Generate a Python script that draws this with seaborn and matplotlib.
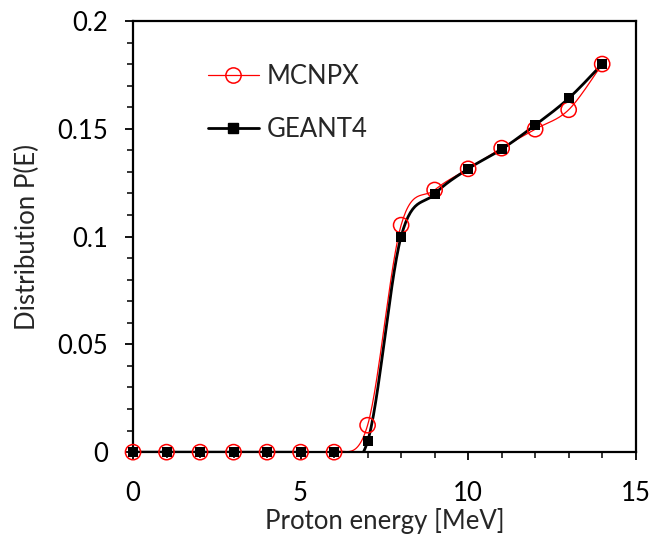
import numpy as np
import pandas as pd
import matplotlib
matplotlib.use("Agg")
import matplotlib.pyplot as plt
from matplotlib.ticker import MultipleLocator
import seaborn as sns

# data
energy = [0, 1, 2, 3, 4, 5, 6, 7, 8, 9, 10, 11, 12, 13, 14]
mcnpx = [0, 0, 0, 0, 0, 0, 0, 0.0125, 0.1053, 0.1216, 0.1314, 0.1410, 0.1498, 0.1588, 0.1800]
geant4 = [0, 0, 0, 0, 0, 0, 0, 0.0050, 0.1000, 0.1197, 0.1314, 0.1405, 0.1517, 0.1641, 0.1800]
x_ticks = [0, 5, 10, 15]
y_ticks = [0, 0.05, 0.1, 0.15, 0.2]
y_labels = ["0", "0.05", "0.1", "0.15", "0.2"]


def smooth(xs, ys, n=30):
    # Excel-like smoothed line (cubic Bezier through the points)
    x = np.asarray(xs, float)
    y = np.asarray(ys, float)
    px = np.concatenate([[x[0]], x, [x[-1]]])
    py = np.concatenate([[y[0]], y, [y[-1]]])
    outx, outy = [], []
    t = np.linspace(0, 1, n)
    for i in range(1, len(px) - 2):
        p0 = np.array([px[i], py[i]])
        p3 = np.array([px[i + 1], py[i + 1]])
        c1 = p0 + (np.array([px[i + 1], py[i + 1]]) - np.array([px[i - 1], py[i - 1]])) / 6
        c2 = p3 - (np.array([px[i + 2], py[i + 2]]) - np.array([px[i], py[i]])) / 6
        b = ((1 - t) ** 3)[:, None] * p0 + (3 * (1 - t) ** 2 * t)[:, None] * c1 \
            + (3 * (1 - t) * t ** 2)[:, None] * c2 + (t ** 3)[:, None] * p3
        outx.extend(b[:, 0])
        outy.extend(b[:, 1])
    return np.array(outx), np.array(outy)


sns.set_style("ticks")
plt.rcParams['font.family'] = ['Lato', 'DejaVu Sans']

fig = plt.figure(figsize=(6.52, 5.37), dpi=100)
ax = fig.add_axes([0.204, 0.158, 0.771, 0.803])

df = pd.DataFrame({"energy": energy, "MCNPX": mcnpx, "GEANT4": geant4})

sx, sy = smooth(df["energy"], df["MCNPX"])
sns.lineplot(x=sx, y=sy, ax=ax, color="red", lw=0.9, sort=False, estimator=None)
gx, gy = smooth(df["energy"], df["GEANT4"])
sns.lineplot(x=gx, y=gy, ax=ax, color="black", lw=2.0, sort=False, estimator=None)

sns.scatterplot(data=df, x="energy", y="MCNPX", ax=ax, marker="o", s=120,
                facecolor="none", edgecolor="red", linewidth=1.1, zorder=3, clip_on=False)
sns.scatterplot(data=df, x="energy", y="GEANT4", ax=ax, marker="s", s=45,
                color="black", edgecolor="black", linewidth=0, zorder=4, clip_on=False)

ax.set_xlim(0, 15)
ax.set_ylim(0, 0.2)
ax.set_xticks(x_ticks)
ax.set_xticklabels([str(v) for v in x_ticks])
ax.xaxis.set_minor_locator(MultipleLocator(1))
ax.set_yticks(y_ticks)
ax.set_yticklabels(y_labels)
ax.yaxis.set_minor_locator(MultipleLocator(0.01))

for s in ax.spines.values():
    s.set_visible(True)
    s.set_linewidth(1.6)
    s.set_color("black")
ax.tick_params(which="major", direction="out", length=6, width=1.3, labelsize=18.5,
               colors="black")
ax.tick_params(which="minor", direction="out", length=4, width=1.3)
ax.tick_params(axis="y", which="both", right=False, left=True, pad=12)
ax.tick_params(axis="x", which="both", top=False, bottom=True, pad=15)

ax.set_xlabel("Proton energy [MeV]", fontsize=18.5, labelpad=1)
ax.set_ylabel("Distribution P(E)", fontsize=18.5, labelpad=12)

h1, = ax.plot([], [], color="red", lw=0.9, marker="o", ms=11, mfc="none", mec="red", mew=1.1)
h2, = ax.plot([], [], color="black", lw=2.0, marker="s", ms=6.5)
ax.legend([h1, h2], ["MCNPX", "GEANT4"], loc="upper left", bbox_to_anchor=(0.128, 0.925),
          frameon=False, fontsize=18.5, handlelength=2.0, labelspacing=1.1,
          handletextpad=0.3, borderaxespad=0)

fig.savefig("out.png", dpi=100)
